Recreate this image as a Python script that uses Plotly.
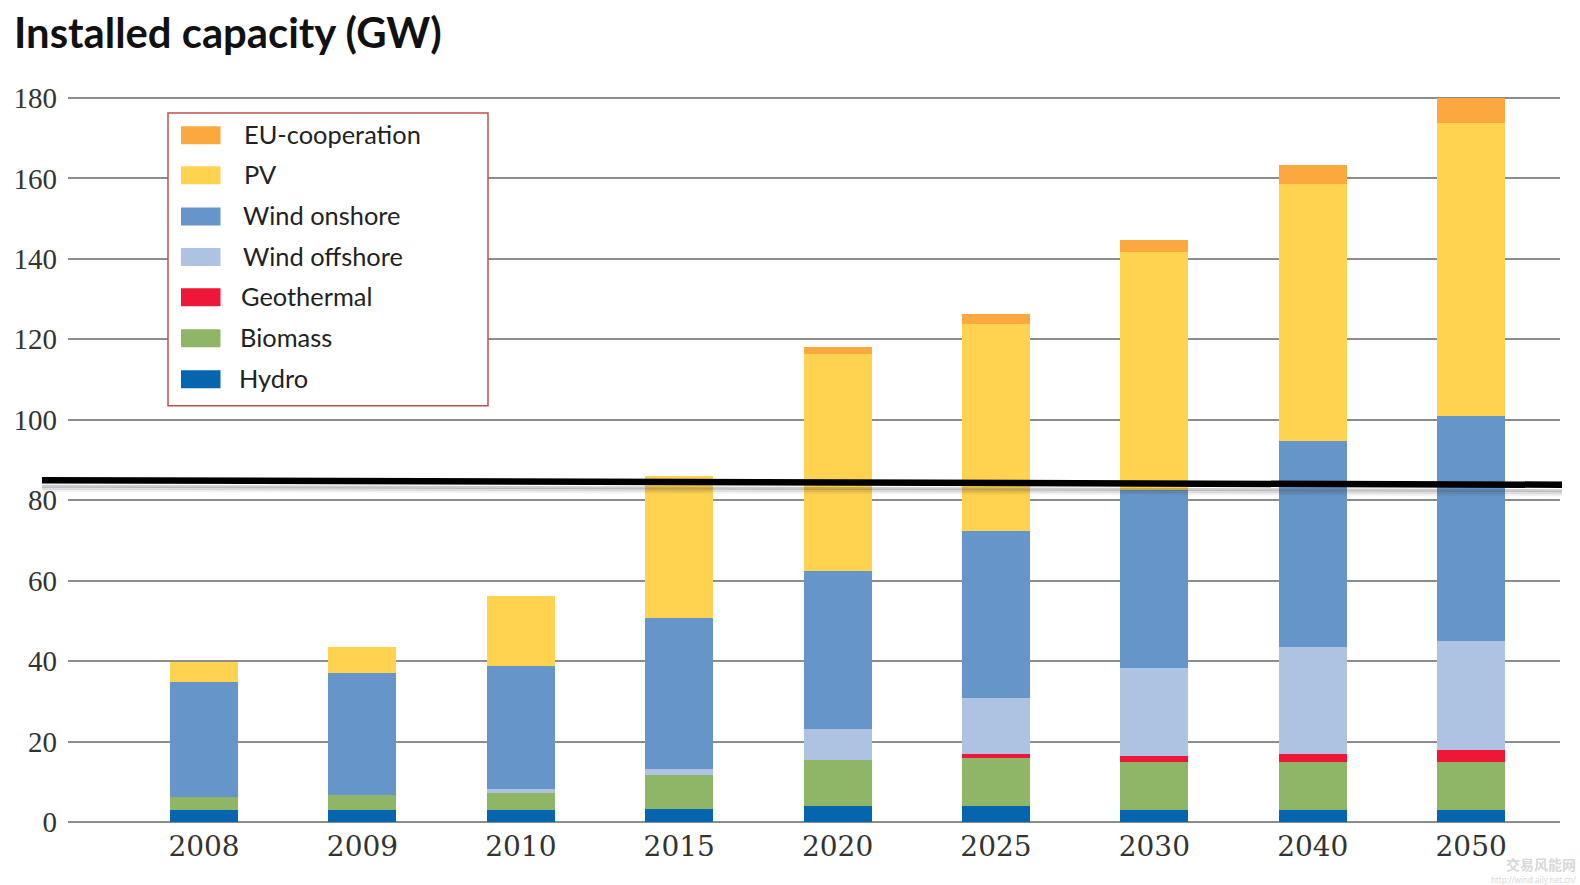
import plotly.graph_objects as go

years = ["2008", "2009", "2010", "2015", "2020", "2025", "2030", "2040", "2050"]
hydro = [3, 3, 3, 3.3, 4, 4, 3, 3, 3]
biomass = [3.2, 3.8, 4.3, 8.5, 11.3, 11.8, 12, 12, 12]
geothermal = [0, 0, 0, 0, 0, 1.2, 1.3, 1.8, 2.8]
wind_offshore = [0, 0, 1, 1.5, 7.7, 13.8, 22, 26.6, 27.3]
wind_onshore = [28.6, 30.2, 30.5, 37.3, 39.4, 41.6, 44.2, 51.3, 55.9]
pv = [5, 6.6, 17.3, 35.4, 53.9, 51.4, 59.1, 63.9, 72.7]
eu_cooperation = [0, 0, 0, 0, 1.7, 2.5, 3.2, 4.8, 6.3]
y_ticks = [0, 20, 40, 60, 80, 100, 120, 140, 160, 180]

# bottom of the stack first
series = [
    ("Hydro", hydro, "#0565AE"),
    ("Biomass", biomass, "#8FB566"),
    ("Geothermal", geothermal, "#EE1639"),
    ("Wind offshore", wind_offshore, "#AEC2E2"),
    ("Wind onshore", wind_onshore, "#6595C9"),
    ("PV", pv, "#FFD24F"),
    ("EU-cooperation", eu_cooperation, "#FBA93F"),
]

W, H = 1580, 885
L, R, T, B = 68, 20, 95.5, 61


def px(x):
    return (x - L) / (W - L - R)


def py(y):
    return 1 - (y - T) / (H - T - B)


fig = go.Figure()
for name, values, color in series:
    fig.add_trace(go.Bar(x=years, y=values, name=name, width=0.43,
                         marker=dict(color=color, line=dict(width=0))))

shapes = []
annotations = []

# hand-drawn legend box
shapes.append(dict(type="rect", xref="paper", yref="paper", x0=px(168), x1=px(488), y0=py(405.5), y1=py(112.5),
                   fillcolor="white", line=dict(color="#C0504D", width=1.5), layer="above"))
legend_y = [134.7, 174.7, 216.2, 256.7, 297, 338, 379]
legend_text_x = [242, 242, 240.5, 240.5, 239, 238, 237]
legend_text_y = [133.7, 173.7, 214.7, 255.5, 296, 336.7, 378]
for (name, values, color), y, tx, ty in zip(reversed(series), legend_y, legend_text_x, legend_text_y):
    shapes.append(dict(type="rect", xref="paper", yref="paper", x0=px(181), x1=px(220.5), y0=py(y + 9), y1=py(y - 9),
                       fillcolor=color, line=dict(width=0), layer="above"))
    annotations.append(dict(text=name, xref="paper", yref="paper", x=px(tx), y=py(ty), xanchor="left", yanchor="middle",
                            showarrow=False, font=dict(family="Lato", size=25.4, color="#222222")))

# black line drawn across the picture and its soft shadow
for off, width, alpha in [(10, 3, 0.07), (8, 3, 0.14), (6, 3, 0.26)]:
    shapes.append(dict(type="line", xref="paper", yref="paper", x0=px(42), x1=px(1562), y0=py(480 + off), y1=py(484.5 + off),
                       line=dict(color="rgba(60,60,60,%s)" % alpha, width=width), layer="above"))
shapes.append(dict(type="line", xref="paper", yref="paper", x0=px(42), x1=px(1562), y0=py(480), y1=py(484.5),
                   line=dict(color="black", width=6.5), layer="above"))

annotations.append(dict(text="<b>Installed capacity (GW)</b>", xref="paper", yref="paper", x=px(12), y=py(31.5),
                        xanchor="left", yanchor="middle", showarrow=False,
                        font=dict(family="Lato", size=41.8, color="#111111")))

# watermark
annotations.append(dict(text="<b>交易风能网</b>", xref="paper", yref="paper", x=px(1578), y=py(864), xanchor="right",
                        yanchor="middle", showarrow=False,
                        font=dict(family="Noto Sans CJK SC", size=14, color="#D8D8D8")))
annotations.append(dict(text="http://wind.aily.net.cn/", xref="paper", yref="paper", x=px(1578), y=py(879.5),
                        xanchor="right", yanchor="middle", showarrow=False,
                        font=dict(family="Noto Sans", size=8, color="#D8D8D8")))

fig.update_layout(
    width=W, height=H, barmode="stack", showlegend=False,
    margin=dict(l=L, r=R, t=T, b=B, pad=0),
    paper_bgcolor="white", plot_bgcolor="white",
    shapes=shapes, annotations=annotations,
    xaxis=dict(type="category", range=[-0.859, 8.561], showgrid=False, showline=False, ticks="",
               ticklabelstandoff=3,
               tickfont=dict(family="DejaVu Serif", size=28, color="#333333")),
    yaxis=dict(range=[-0.5, 180.5], tickvals=y_ticks, showgrid=True, gridcolor="#8C8C8C", gridwidth=1.5,
               zeroline=False, showline=False, ticks="", ticklabelstandoff=10,
               tickfont=dict(family="Liberation Serif", size=29, color="#333333")),
)

# page margin would push the chart off the window
fig.write_html("out.html", config={"displayModeBar": False},
               post_script="document.body.style.margin='0';")
